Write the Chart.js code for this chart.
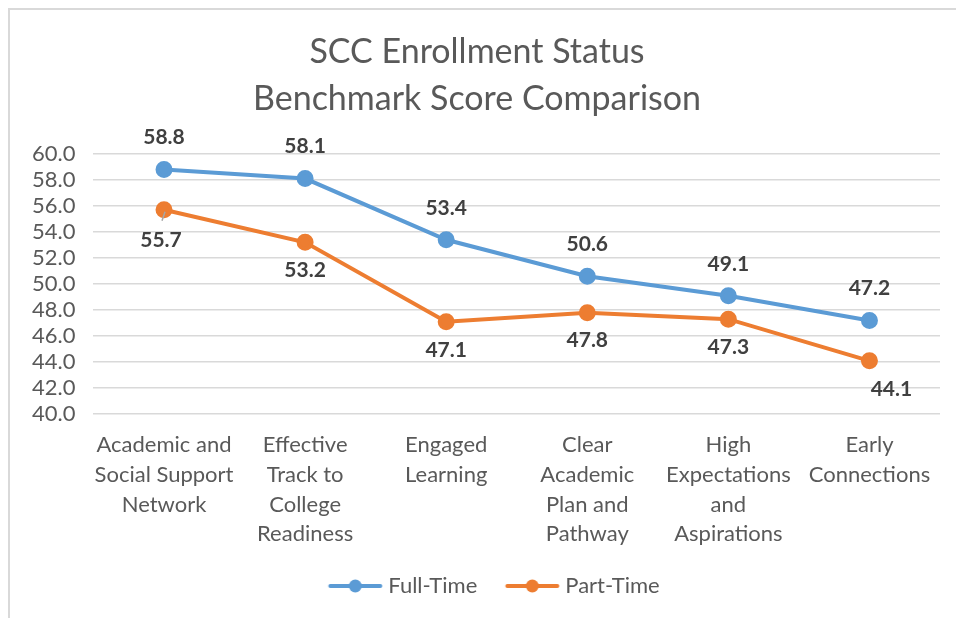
<!DOCTYPE html>
<html>
<head>
<meta charset="utf-8">
<script src="https://cdn.jsdelivr.net/npm/chart.js@4/dist/chart.umd.min.js"></script>
<style>
  html, body { margin: 0; padding: 0; background: #fff; }
  #wrap { position: relative; width: 956px; height: 618px; }
</style>
</head>
<body>
<div id="wrap"><canvas id="graph1" width="956" height="618"></canvas></div>
<script>
// categorias e valores
const categories = [
    ['Academic and', 'Social Support', 'Network'],
    ['Effective', 'Track to', 'College', 'Readiness'],
    ['Engaged', 'Learning'],
    ['Clear', 'Academic', 'Plan and', 'Pathway'],
    ['High', 'Expectations', 'and', 'Aspirations'],
    ['Early', 'Connections'],
];
const fullTime = [58.8, 58.1, 53.4, 50.6, 49.1, 47.2];
const partTime = [55.7, 53.2, 47.1, 47.8, 47.3, 44.1];
const yTicks = [40, 42, 44, 46, 48, 50, 52, 54, 56, 58, 60];

const BLUE = '#5B9BD5';
const ORANGE = '#ED7D31';
const FONT = 'Lato, "Open Sans", sans-serif';

// marcador da legenda: linha com bolinha (deslocado p/ direita dentro da imagem)
function legendMarker(color) {
    const c = document.createElement('canvas');
    c.width = 74; c.height = 14;
    const ctx = c.getContext('2d');
    ctx.strokeStyle = color;
    ctx.lineWidth = 4;
    ctx.lineCap = 'round';
    ctx.beginPath();
    ctx.moveTo(19.5, 7); ctx.lineTo(69.5, 7);
    ctx.stroke();
    ctx.fillStyle = color;
    ctx.beginPath();
    ctx.arc(44.5, 7, 6.5, 0, Math.PI * 2);
    ctx.fill();
    return c;
}

// rótulos de valor (acima para Full-Time, abaixo para Part-Time)
const valueLabels = {
    id: 'valueLabels',
    afterDatasetsDraw(chart) {
        const ctx = chart.ctx;
        ctx.save();
        ctx.font = 'bold 21px ' + FONT;
        ctx.fillStyle = '#404040';
        ctx.textAlign = 'center';
        ctx.textBaseline = 'middle';
        chart.data.datasets.forEach((ds, di) => {
            const meta = chart.getDatasetMeta(di);
            meta.data.forEach((pt, i) => {
                let dx = 0, dy = di === 0 ? -32 : 28;
                if (di === 1 && i === 0) {
                    dx = -3; dy = 30;
                    ctx.strokeStyle = '#a6a6a6';
                    ctx.lineWidth = 1.5;
                    ctx.beginPath();
                    ctx.moveTo(pt.x + 1, pt.y + 2);
                    ctx.lineTo(pt.x - 2, pt.y + 11);
                    ctx.stroke();
                }
                if (di === 1 && i === ds.data.length - 1) dx = 22;
                ctx.fillText(ds.data[i].toFixed(1), pt.x + dx, pt.y + dy);
            });
        });
        ctx.restore();
    }
};

// moldura cinza clara do gráfico
const frame = {
    id: 'frame',
    beforeDraw(chart) {
        const ctx = chart.ctx;
        ctx.save();
        ctx.strokeStyle = '#d9d9d9';
        ctx.lineWidth = 2;
        ctx.strokeRect(9, 9, chart.width, chart.height);
        ctx.restore();
    }
};

// empurra a legenda um pouco para a direita
const legendShift = {
    id: 'legendShift',
    afterLayout(chart) {
        if (chart.legend) {
            chart.legend.left += 12;
            chart.legend.right += 12;
        }
    }
};

const config = {
    type: 'line',
    data: {
        labels: categories,
        datasets: [
            {
                label: 'Full-Time',
                data: fullTime,
                borderColor: BLUE,
                backgroundColor: BLUE,
                borderWidth: 4,
                pointRadius: 6.5,
                pointHoverRadius: 6.5,
                pointStyle: 'circle',
                tension: 0,
            },
            {
                label: 'Part-Time',
                data: partTime,
                borderColor: ORANGE,
                backgroundColor: ORANGE,
                borderWidth: 4,
                pointRadius: 6.5,
                pointHoverRadius: 6.5,
                pointStyle: 'circle',
                tension: 0,
            }
        ]
    },
    options: {
        responsive: false,
        animation: false,
        layout: { padding: { left: 14, right: 16, top: 29, bottom: 11 } },
        scales: {
            y: {
                min: 40,
                max: 60,
                afterBuildTicks: axis => { axis.ticks = yTicks.map(v => ({ value: v })); },
                grid: { color: '#d9d9d9', lineWidth: 1.5, drawTicks: false },
                border: { display: false },
                ticks: {
                    autoSkip: false,
                    padding: 18,
                    color: '#595959',
                    font: { family: FONT, size: 22 },
                    callback: v => Number(v).toFixed(1)
                }
            },
            x: {
                offset: true,
                grid: { display: false },
                border: { display: false },
                ticks: {
                    padding: 8,
                    maxRotation: 0,
                    autoSkip: false,
                    color: '#595959',
                    font: { family: FONT, size: 22, lineHeight: 1.35 }
                }
            }
        },
        plugins: {
            title: {
                display: true,
                text: ['SCC Enrollment Status', 'Benchmark Score Comparison'],
                color: '#595959',
                font: { family: FONT, size: 34, weight: 'normal', lineHeight: 1.38 },
                padding: { top: 0, bottom: 31 }
            },
            legend: {
                position: 'bottom',
                labels: {
                    color: '#595959',
                    font: { family: FONT, size: 22 },
                    usePointStyle: true,
                    pointStyleWidth: 59,
                    padding: 18,
                    generateLabels: chart => chart.data.datasets.map((ds, i) => ({
                        text: ds.label,
                        pointStyle: legendMarker(ds.borderColor),
                        fillStyle: ds.borderColor,
                        strokeStyle: ds.borderColor,
                        lineWidth: 0,
                        fontColor: '#595959',
                        datasetIndex: i,
                        hidden: false
                    }))
                }
            },
            tooltip: { enabled: false }
        }
    },
    plugins: [frame, valueLabels, legendShift]
};

const chart = new Chart(document.getElementById('graph1'), config);
</script>
</body>
</html>
